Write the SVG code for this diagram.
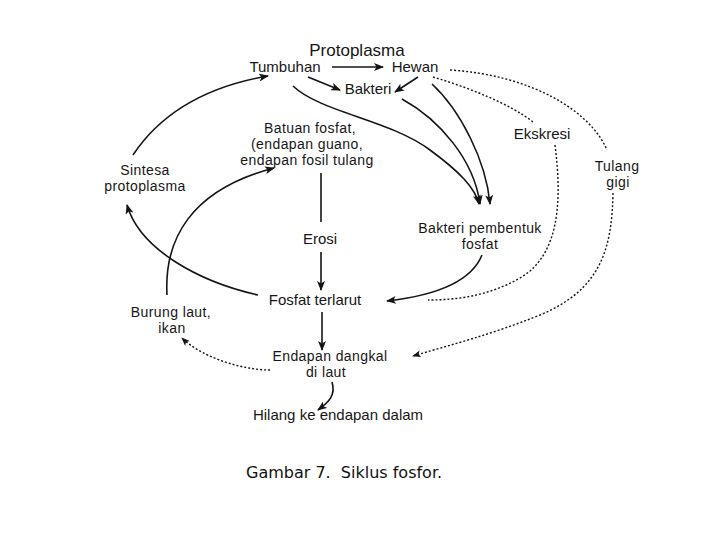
<svg xmlns="http://www.w3.org/2000/svg" width="720" height="540" viewBox="0 0 720 540">
<style>
  text { font-family: "Liberation Sans", Arial, Helvetica, sans-serif; font-size: 15px; fill: #161616; text-anchor: middle; }
  .m { font-size: 14px; letter-spacing: 0.4px; }
  .cap { font-family: "DejaVu Sans", Verdana, sans-serif; font-size: 16px; fill: #111; text-anchor: start; letter-spacing: 0; }
  .ln { fill: none; stroke: #141414; stroke-width: 1.6; }
  .dot { fill: none; stroke: #141414; stroke-width: 1.4; stroke-dasharray: 2 2; }
</style>
<defs>
  <marker id="ah" viewBox="0 0 10 8" refX="9" refY="4" markerWidth="10" markerHeight="8" markerUnits="userSpaceOnUse" orient="auto">
    <path d="M0,0 L10,4 L0,8 L2.5,4 z" fill="#141414"/>
  </marker>
  <marker id="ahd" viewBox="0 0 10 8" refX="9" refY="4" markerWidth="9" markerHeight="7" markerUnits="userSpaceOnUse" orient="auto">
    <path d="M0,0 L10,4 L0,8 L2.5,4 z" fill="#141414"/>
  </marker>
</defs>
<rect width="720" height="540" fill="#ffffff"/>

<g id="connectors">
  <line class="ln" x1="332" y1="67" x2="383" y2="67" marker-end="url(#ah)"/>
  <line class="ln" x1="308" y1="77" x2="340" y2="90" marker-end="url(#ah)"/>
  <line class="ln" x1="418" y1="77" x2="395" y2="92" marker-end="url(#ah)"/>
  <path class="ln" d="M293,86 C320,112 390,120 430,150 C460,172 475,188 479,204" marker-end="url(#ah)"/>
  <path class="ln" d="M402,99 C440,120 474,160 480,204" marker-end="url(#ah)"/>
  <path class="ln" d="M432,84 C460,110 486,160 490,204" marker-end="url(#ah)"/>
  <path class="ln" d="M133,155 Q175,92 268,76" marker-end="url(#ah)"/>
  <path class="ln" d="M167,295 C164,240 190,190 274,168" marker-end="url(#ah)"/>
  <path class="ln" d="M258,295 C200,282 140,250 127,205" marker-end="url(#ah)"/>
  <line class="ln" x1="321" y1="173" x2="321" y2="222"/>
  <line class="ln" x1="321" y1="252" x2="321" y2="290" marker-end="url(#ah)"/>
  <line class="ln" x1="322" y1="312" x2="322" y2="350" marker-end="url(#ah)"/>
  <path class="ln" d="M332,382 C336,395 329,402 318,410" marker-end="url(#ah)"/>
  <path class="ln" d="M482,255 C472,280 440,295 387,301" marker-end="url(#ah)"/>
  <path class="dot" d="M270,370 C240,370 200,356 182,338" marker-end="url(#ahd)"/>
  <path class="dot" d="M555,145 C562,200 560,255 520,278 C490,295 460,300 428,300"/>
  <path class="dot" d="M433,77 C470,88 510,104 533,122"/>
  <path class="dot" d="M450,70 C530,75 590,110 607,150"/>
  <path class="dot" d="M613,193 C612,250 600,290 540,315 C490,335 450,345 413,356" marker-end="url(#ahd)"/>
</g>

<g id="protoplasma"><text x="357" y="56" style="font-size:17px">Protoplasma</text></g>
<g id="tumbuhan"><text x="285" y="72">Tumbuhan</text></g>
<g id="hewan"><text x="415" y="72">Hewan</text></g>
<g id="bakteri"><text x="368" y="94">Bakteri</text></g>
<g id="batuan">
  <text class="m" x="310" y="133">Batuan fosfat,</text>
  <text class="m" x="307" y="149">(endapan guano,</text>
  <text class="m" x="307" y="165">endapan fosil tulang</text>
</g>
<g id="sintesa">
  <text class="m" x="145" y="175">Sintesa</text>
  <text class="m" x="145" y="191">protoplasma</text>
</g>
<g id="erosi"><text x="320" y="244">Erosi</text></g>
<g id="fosfat-terlarut"><text x="315" y="305">Fosfat terlarut</text></g>
<g id="burung">
  <text class="m" x="171" y="317">Burung laut,</text>
  <text class="m" x="172" y="333">ikan</text>
</g>
<g id="endapan-dangkal">
  <text class="m" x="330" y="361">Endapan dangkal</text>
  <text class="m" x="326" y="377">di laut</text>
</g>
<g id="hilang"><text x="338" y="420">Hilang ke endapan dalam</text></g>
<g id="bakteri-pembentuk">
  <text class="m" x="480" y="233">Bakteri pembentuk</text>
  <text class="m" x="480" y="249">fosfat</text>
</g>
<g id="ekskresi"><text x="542" y="139">Ekskresi</text></g>
<g id="tulang">
  <text class="m" x="617" y="171">Tulang</text>
  <text class="m" x="618" y="187">gigi</text>
</g>
<g id="caption"><text class="cap" x="246" y="478" xml:space="preserve">Gambar 7.  Siklus fosfor.</text></g>
</svg>
